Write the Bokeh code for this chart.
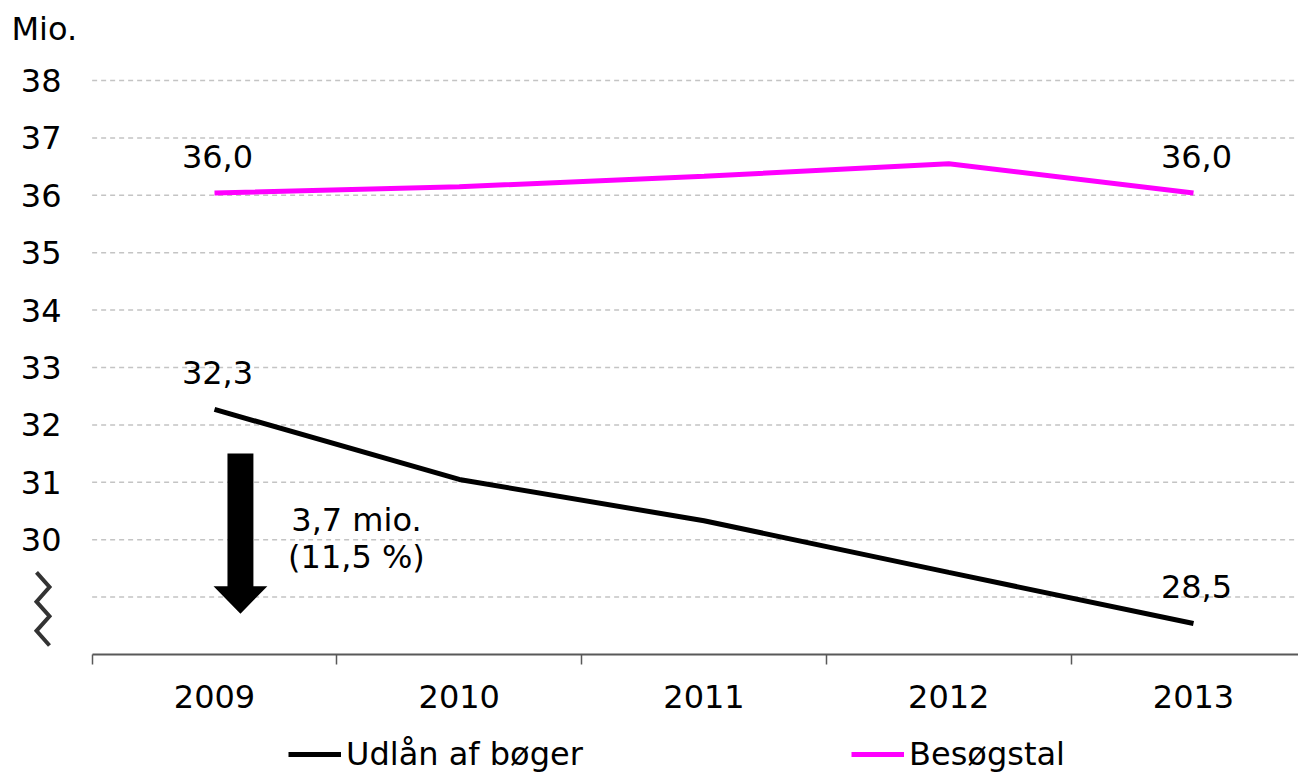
from bokeh.plotting import figure
from bokeh.models import Range1d, FixedTicker, Legend, LegendItem
from bokeh.core.properties import value
from bokeh.embed import file_html
from bokeh.resources import INLINE

# ---------------- data ----------------
years = ["2009", "2010", "2011", "2012", "2013"]
udlaan = [32.27, 31.05, 30.33, 29.43, 28.54]      # Udlån af bøger (mio.)
besoeg = [36.04, 36.15, 36.33, 36.55, 36.04]      # Besøgstal (mio.)
y_tick_values = [30, 31, 32, 33, 34, 35, 36, 37, 38]
y_grid_values = [29, 30, 31, 32, 33, 34, 35, 36, 37, 38]
y_unit = "Mio."
series_names = ["Udlån af bøger", "Besøgstal"]
annotation_lines = ["3,7 mio.", "(11,5 %)"]

FONT = "DejaVu Sans"
FS = "32px"
BLACK = "#000000"
MAGENTA = "#FF00FF"

W, H = 1298, 774
PX_X = 244.75          # pixels per category
PX_Y = 57.4            # pixels per million
X0_PX = 214            # pixel position of first category
Y28_PX = 654           # pixel position of value 28 (axis)
Y_BASE = 28            # axis baseline value

x_start = -X0_PX / PX_X
x_end = (W - X0_PX) / PX_X
y_start = Y_BASE - (H - Y28_PX) / PX_Y
y_end = Y_BASE + Y28_PX / PX_Y

xs = list(range(len(years)))

p = figure(width=W, height=H, output_backend="svg", toolbar_location=None,
           x_range=Range1d(x_start, x_end), y_range=Range1d(y_start, y_end),
           min_border_left=0, min_border_right=0, min_border_top=0,
           min_border_bottom=0)
p.outline_line_color = None
p.background_fill_color = "white"
p.border_fill_color = "white"
p.xgrid.grid_line_color = None
p.ygrid.grid_line_color = None

# dashed horizontal grid lines, starting at the plot's left edge (x=-0.5)
p.segment(x0=[-0.5] * len(y_grid_values), x1=[x_end] * len(y_grid_values),
          y0=y_grid_values, y1=y_grid_values,
          line_color="#C4C4C4", line_dash="5 4", line_width=1.5)

# y axis (drawn at a fixed location inside the canvas)
p.yaxis.ticker = FixedTicker(ticks=y_tick_values)
p.yaxis.fixed_location = (20 - X0_PX) / PX_X
p.yaxis.axis_line_color = None
p.yaxis.major_tick_line_color = None
p.yaxis.minor_tick_line_color = None
p.yaxis.major_tick_out = 0
p.yaxis.major_tick_in = 0
p.yaxis.minor_tick_out = 0
p.yaxis.minor_tick_in = 0
p.yaxis.major_label_standoff = -41
p.yaxis.major_label_text_font = FONT
p.yaxis.major_label_text_font_size = FS
p.yaxis.major_label_text_color = BLACK

# x axis at value 28
p.xaxis.ticker = FixedTicker(ticks=xs, minor_ticks=[i - 0.5 for i in xs])
p.xaxis.fixed_location = Y_BASE
p.xaxis.bounds = (-0.5, x_end)
p.xaxis.major_label_overrides = {i: y for i, y in zip(xs, years)}
p.xaxis.axis_line_color = "#595959"
p.xaxis.axis_line_width = 2
p.xaxis.major_tick_line_color = None
p.xaxis.major_tick_out = 0
p.xaxis.major_tick_in = 0
p.xaxis.minor_tick_line_color = "#595959"
p.xaxis.minor_tick_line_width = 1.5
p.xaxis.minor_tick_out = 10
p.xaxis.minor_tick_in = 0
p.xaxis.major_label_standoff = 20
p.xaxis.major_label_text_font = FONT
p.xaxis.major_label_text_font_size = FS
p.xaxis.major_label_text_color = BLACK

# lines
r1 = p.line(xs, udlaan, line_color=BLACK, line_width=5)
r2 = p.line(xs, besoeg, line_color=MAGENTA, line_width=5)

# value labels (first and last year)
def fmt(v):
    return f"{v:.1f}".replace(".", ",")

lab_x, lab_y, lab_t = [], [], []
for series in (udlaan, besoeg):
    for i in (0, len(xs) - 1):
        lab_x.append(xs[i]); lab_y.append(series[i]); lab_t.append(fmt(series[i]))
p.text(x=lab_x, y=lab_y, text=lab_t, text_font=value(FONT), text_font_size=FS,
       text_color=BLACK, text_align="center", text_baseline="alphabetic",
       x_offset=3, y_offset=-37)

# block arrow showing the decrease
ARROW_X = 0.106
ARROW_TOP = 31.5
ARROW_HEAD_BASE = 29.19
ARROW_TIP = 28.71
SHAFT_HALF = 0.053
HEAD_HALF = 0.11
p.patch([ARROW_X - SHAFT_HALF, ARROW_X + SHAFT_HALF, ARROW_X + SHAFT_HALF,
         ARROW_X + HEAD_HALF, ARROW_X, ARROW_X - HEAD_HALF, ARROW_X - SHAFT_HALF],
        [ARROW_TOP, ARROW_TOP, ARROW_HEAD_BASE, ARROW_HEAD_BASE, ARROW_TIP,
         ARROW_HEAD_BASE, ARROW_HEAD_BASE],
        fill_color=BLACK, line_color=None)

# annotation text
p.text(x=[0.58, 0.58], y=[30.35, 29.69], text=annotation_lines,
       text_font=value(FONT), text_font_size=FS, text_color=BLACK,
       text_align="center", text_baseline="alphabetic")

# unit label
p.text(x=[(11 - X0_PX) / PX_X], y=[Y_BASE + (Y28_PX - 28) / PX_Y], text=[y_unit],
       text_font=value(FONT), text_font_size=FS, text_color=BLACK,
       text_align="left", text_baseline="alphabetic")

# axis break mark (zigzag)
BRK_XL, BRK_XR = (36 - X0_PX) / PX_X, (49 - X0_PX) / PX_X
BRK_TOP, BRK_BOT = 29.43, 28.157
n = 6
bx = [BRK_XL if k % 2 == 0 else BRK_XR for k in range(n)]
by = [BRK_TOP - (BRK_TOP - BRK_BOT) * k / (n - 1) for k in range(n)]
p.line(bx, by, line_color="#333333", line_width=4, line_join="miter")

# legend (inside the canvas, at the bottom)
legend = Legend(items=[LegendItem(label=series_names[0], renderers=[r1]),
                       LegendItem(label=series_names[1], renderers=[r2])],
                orientation="horizontal", location=(288, 1),
                padding=0, margin=0, spacing=265, glyph_width=53, glyph_height=34,
                label_standoff=5, label_width=240, label_height=34,
                label_text_font=FONT, label_text_font_size=FS,
                label_text_color=BLACK, label_text_baseline="middle",
                border_line_color=None, background_fill_alpha=0)
p.add_layout(legend)

open("out.html", "w").write(file_html(p, INLINE))
